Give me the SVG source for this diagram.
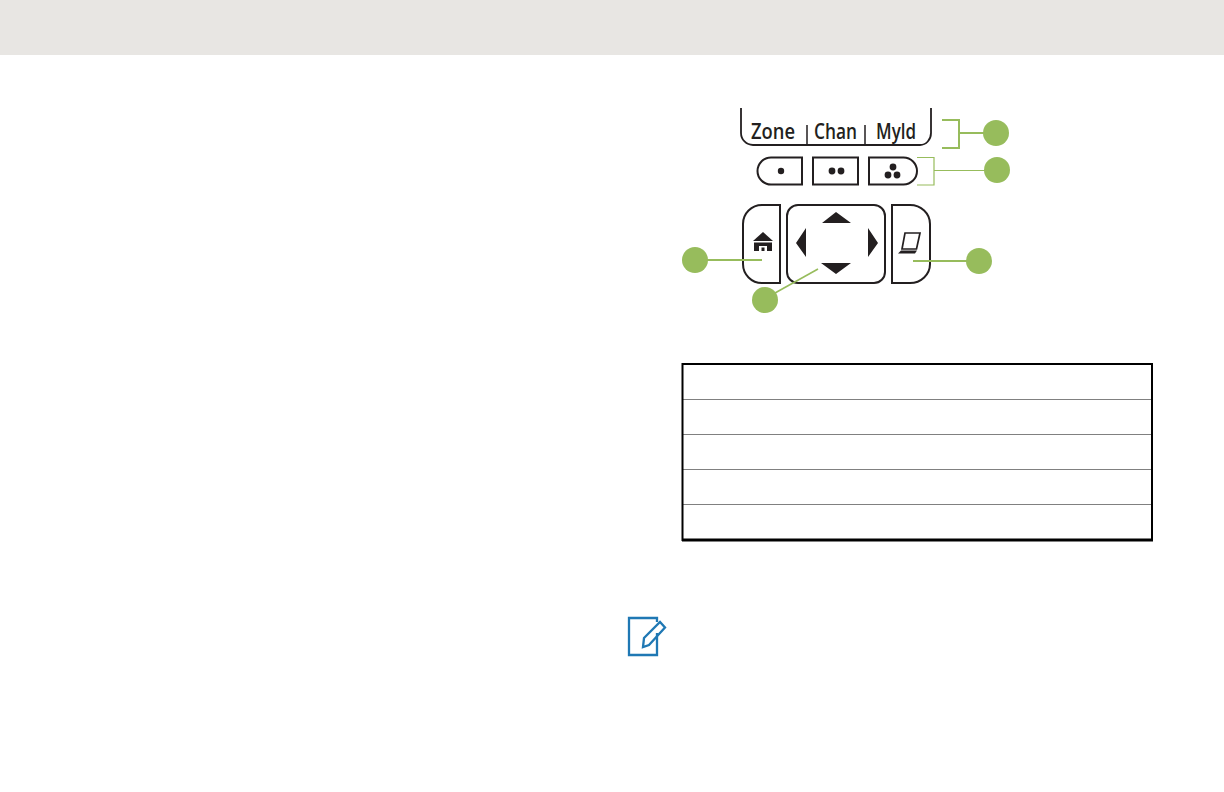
<svg xmlns="http://www.w3.org/2000/svg" width="1224" height="792" viewBox="0 0 1224 792">
<style>
.key{fill:#fff;stroke:#231f20;stroke-width:2}
.g{fill:#97bc5c}
.l{fill:none;stroke:#97bc5c;stroke-width:2}
.t{fill:none;stroke:#97bc5c;stroke-width:1.2}
.n{fill:none;stroke:#97bc5c;stroke-width:1.6}
.k{fill:#231f20}
.lb{font-family:"Open Sans","Liberation Sans",sans-serif;font-size:21px;font-weight:600;fill:#231f20}
.row{stroke:#808080;stroke-width:1}
</style>
<rect width="1224" height="792" fill="#fff"/>
<rect id="header" width="1224" height="55" fill="#e8e6e3"/>
<g id="softkeys">
<path d="M741 108V133A12 12 0 0 0 753 145H920A11 12 0 0 0 931 133V108" fill="none" stroke="#231f20" stroke-width="1.8"/>
<path d="M807 125V145M865 125V145" stroke="#231f20" stroke-width="1.5"/>
<text class="lb" x="751" y="139" textLength="44" lengthAdjust="spacingAndGlyphs">Zone</text>
<text class="lb" x="814" y="139" textLength="43" lengthAdjust="spacingAndGlyphs">Chan</text>
<text class="lb" x="876" y="139" textLength="40" lengthAdjust="spacingAndGlyphs">Myld</text>
</g>
<g id="menu-keys">
<path class="key" d="M802 157.500V184.500H771A13.500 13.500 0 0 1 771 157.500Z"/>
<rect class="key" x="813" y="157.500" width="45" height="27"/>
<path class="key" d="M869 157.500V184.500H903.500A13.500 13.500 0 0 0 903.500 157.500Z"/>
<circle class="k" cx="781" cy="171" r="3.200"/>
<circle class="k" cx="832" cy="171" r="3.400"/><circle class="k" cx="841" cy="171" r="3.400"/>
<circle class="k" cx="893" cy="167" r="3.400"/><circle class="k" cx="888" cy="175" r="3.400"/><circle class="k" cx="897" cy="175" r="3.400"/>
</g>
<g id="home-key">
<path class="key" d="M780 205V283H762A19 19 0 0 1 743 264V224A19 19 0 0 1 762 205Z"/>
<path class="k" d="M763 232L753 241H773Z"/>
<path class="k" fill-rule="evenodd" d="M754 242.500H772V251H767V246H759V251H754Z"/>
<rect class="k" x="761.500" y="247.500" width="3" height="3.500"/>
</g>
<g id="nav-key">
<rect class="key" x="787" y="205" width="98" height="78" rx="11"/>
<path class="k" d="M836 212L851 223H822ZM836 274L821 263H851ZM796 243L806 228V257ZM878 243L868 228V257Z"/>
</g>
<g id="pc-key">
<path class="key" d="M892 205V283H910A20 19 0 0 0 930 264V224A20 19 0 0 0 910 205Z"/>
<path d="M905 233H920L916.500 249H902Z" fill="#fff" stroke="#231f20" stroke-width="1.700"/>
<path class="k" d="M901 250.500H917L915 253.500H898Z"/>
</g>
<g id="connectors">
<path class="l" d="M942 120H959V148H942M959 133H985"/>
<path class="t" d="M917 157.500H934V185H917M934 170.500H985"/>
<path class="l" d="M707 260H762"/>
<path class="l" d="M913 261H969"/>
<path class="n" d="M775 293L818 269"/>
</g>
<g id="callouts">
<circle class="g" cx="996" cy="133" r="13"/>
<circle class="g" cx="997" cy="170" r="13"/>
<circle class="g" cx="695" cy="260" r="13"/>
<circle class="g" cx="979" cy="261" r="13"/>
<circle class="g" cx="765" cy="300" r="13"/>
</g>
<g id="table">
<path class="row" d="M682 399.500H1152M682 434.500H1152M682 469.500H1152M682 504.500H1152"/>
<path d="M682.500 364H1152V540H682.500Z" fill="none" stroke="#000" stroke-width="2"/>
<path d="M682 540H1153" stroke="#000" stroke-width="3"/>
</g>
<g id="note-icon" fill="none" stroke="#1f78b4" stroke-width="2.300">
<path d="M657 622V618H629V655H657V633"/>
<path d="M643 647L644 638L660 622L665 627.500L649 645Z"/>
</g>
</svg>
